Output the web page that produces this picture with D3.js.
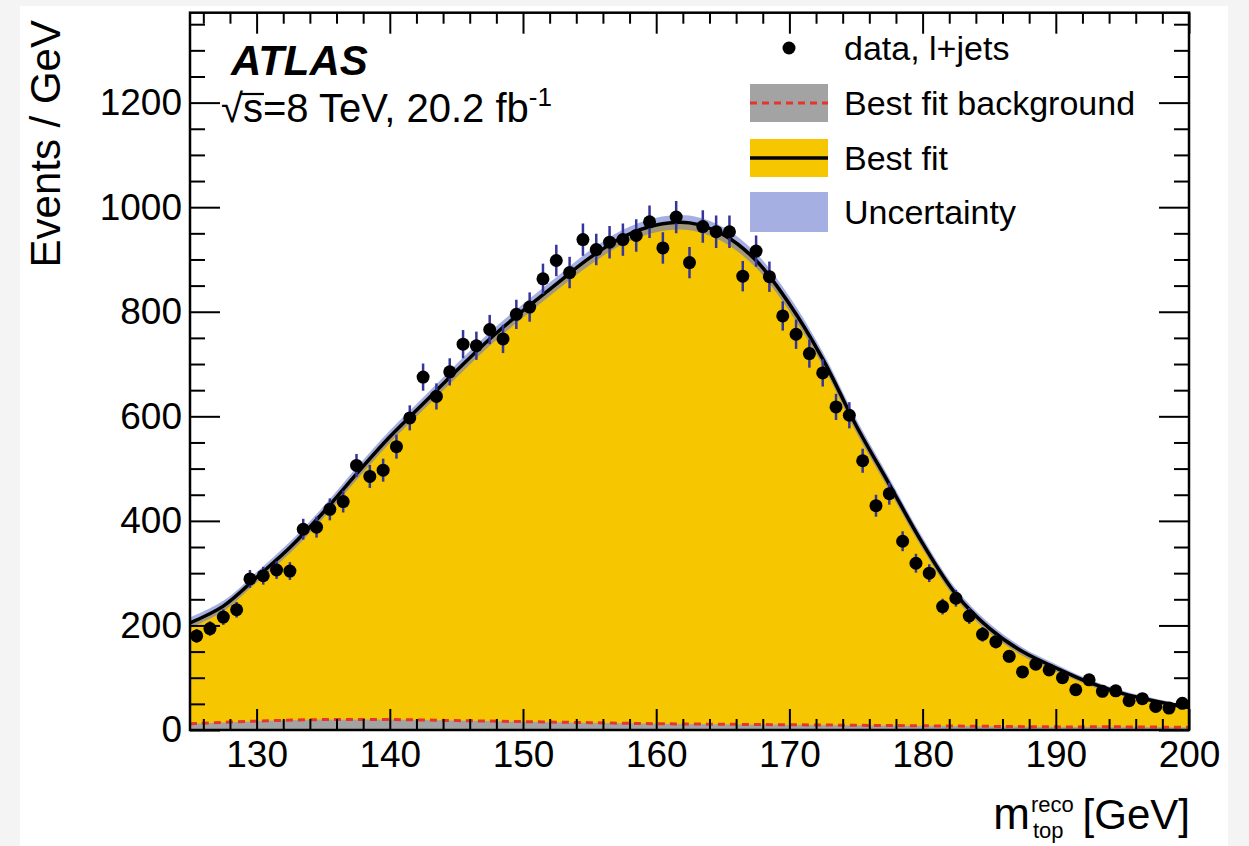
<!DOCTYPE html>
<html>
<head>
<meta charset="utf-8">
<script src="https://cdn.jsdelivr.net/npm/d3@7"></script>
<style>
  body { margin: 0; background: #f4f4f4; }
  svg { display: block; }
  text { font-family: "Liberation Sans", Arial, Helvetica, sans-serif; }
</style>
</head>
<body>
<svg id="chart" width="1249" height="846"></svg>
<script>
// bin centres of the data histogram (GeV)
const binCenters = [
  125.5,126.5,127.5,128.5,129.5,130.5,131.5,132.5,133.5,134.5,
  135.5,136.5,137.5,138.5,139.5,140.5,141.5,142.5,143.5,144.5,
  145.5,146.5,147.5,148.5,149.5,150.5,151.5,152.5,153.5,154.5,
  155.5,156.5,157.5,158.5,159.5,160.5,161.5,162.5,163.5,164.5,
  165.5,166.5,167.5,168.5,169.5,170.5,171.5,172.5,173.5,174.5,
  175.5,176.5,177.5,178.5,179.5,180.5,181.5,182.5,183.5,184.5,
  185.5,186.5,187.5,188.5,189.5,190.5,191.5,192.5,193.5,194.5,
  195.5,196.5,197.5,198.5,199.5
];
const dataCounts = [
  180,194,216,230,289,295,306,304,384,388,
  422,437,506,485,497,542,597,675,638,685,
  738,735,766,748,795,809,863,898,875,938,
  919,933,938,946,972,922,981,894,963,953,
  953,868,916,867,792,757,720,683,618,602,
  515,429,452,361,319,300,236,252,218,183,
  169,141,111,126,115,100,77,96,74,75,
  56,60,45,42,51
];
const dataErrors = [
  13,14,15,15,17,17,17,17,20,20,
  21,21,22,22,22,23,24,26,25,26,
  27,27,28,27,28,28,29,30,30,31,
  30,31,31,31,31,30,31,30,31,31,
  31,29,30,29,28,28,27,26,25,25,
  23,21,21,19,18,17,15,16,15,14,
  13,12,11,11,11,10,9,10,9,9,
  7,8,7,6,7
];

// best fit curve
const fitMass = [125,127.5,130,132.5,135,137.5,140,142.5,145,147.5,150,152.5,155,157.5,160,162.5,
                 165,167.5,170,172.5,175,177.5,180,182.5,185,187.5,190,192.5,195,197.5,200];
const fitValues = [205,237,292,349,416,490,561,624,687,748,802,853,903,943,966,970,
                   948,898,815,710,583,470,357,260,195,150,119,91,70,55,43];
const fitUncert = [10,10,10,11,11,12,12,12,13,13,13,13,14,14,14,14,
                   14,14,14,13,13,12,11,10,9,8,7,6,5,5,4];

// best fit background
const bkgMass = [125,130,135,140,145,150,155,160,165,170,175,180,185,190,195,200];
const bkgValues = [12,17,20,20,18,16,14,12,11,10,9,8,7,6,6,5];

const xMajor = [130,140,150,160,170,180,190,200];
const xMinor = [126,128,132,134,136,138,142,144,146,148,152,154,156,158,162,164,166,168,
                172,174,176,178,182,184,186,188,192,194,196,198];
const yMajor = [0,200,400,600,800,1000,1200];
const yMinor = [50,100,150,250,300,350,450,500,550,650,700,750,850,900,950,1050,1100,1150,1250,1300,1350];

const legendLabels = ['data, l+jets', 'Best fit background', 'Best fit', 'Uncertainty'];

const yellow = '#f6c600';
const lavender = 'rgba(105,122,205,0.6)';
const bkgGrey = '#a3a3a3';
const errColor = '#35359a';

const svg = d3.select('#chart');
const pLeft = 190, pRight = 1189, pTop = 12.7, pBottom = 730;

svg.append('rect').attr('x', 20).attr('y', 6).attr('width', 1208).attr('height', 840).attr('fill', '#fff');

const x = d3.scaleLinear([125, 200], [pLeft, pRight]);
const y = d3.scaleLinear([0, 1372], [pBottom, pTop]);

svg.append('clipPath').attr('id', 'plot')
  .append('rect').attr('x', pLeft).attr('y', pTop).attr('width', pRight - pLeft).attr('height', pBottom - pTop);

const plot = svg.append('g').attr('clip-path', 'url(#plot)');

const fitPts = fitMass.map((m, i) => ({m, v: fitValues[i], u: fitUncert[i]}));
const bkgPts = bkgMass.map((m, i) => ({m, v: bkgValues[i]}));

// yellow: best fit
plot.append('path')
  .datum(fitPts)
  .attr('fill', yellow)
  .attr('d', d3.area().x(d => x(d.m)).y0(y(0)).y1(d => y(d.v)).curve(d3.curveCatmullRom));

// grey: background
plot.append('path')
  .datum(bkgPts)
  .attr('fill', bkgGrey)
  .attr('d', d3.area().x(d => x(d.m)).y0(y(0)).y1(d => y(d.v)).curve(d3.curveCatmullRom));

// uncertainty band
plot.append('path')
  .datum(fitPts)
  .attr('fill', lavender)
  .attr('d', d3.area().x(d => x(d.m)).y0(d => y(d.v - d.u)).y1(d => y(d.v + d.u)).curve(d3.curveCatmullRom));

// background line
plot.append('path')
  .datum(bkgPts)
  .attr('fill', 'none')
  .attr('stroke', '#e8352c')
  .attr('stroke-width', 3)
  .attr('stroke-dasharray', '7,5')
  .attr('d', d3.line().x(d => x(d.m)).y(d => y(d.v)).curve(d3.curveCatmullRom));

// fit line
plot.append('path')
  .datum(fitPts)
  .attr('fill', 'none')
  .attr('stroke', '#000')
  .attr('stroke-width', 3.5)
  .attr('d', d3.line().x(d => x(d.m)).y(d => y(d.v)).curve(d3.curveCatmullRom));

// data
const pts = binCenters.map((m, i) => ({m, v: dataCounts[i], e: dataErrors[i]}));
plot.append('g').selectAll('line').data(pts).join('line')
  .attr('x1', d => x(d.m)).attr('x2', d => x(d.m))
  .attr('y1', d => y(d.v - d.e)).attr('y2', d => y(d.v + d.e))
  .attr('stroke', errColor).attr('stroke-width', 2.5);
plot.append('g').selectAll('circle').data(pts).join('circle')
  .attr('cx', d => x(d.m)).attr('cy', d => y(d.v)).attr('r', 6.5).attr('fill', '#000');

// axes (ticks inward, ROOT style)
function styleAxis(g, size) {
  g.select('.domain').remove();
  g.selectAll('.tick line').attr('stroke', '#000').attr('stroke-width', 2);
  g.selectAll('text').attr('font-size', size).attr('fill', '#000')
    .attr('font-family', '"Liberation Sans", Arial, Helvetica, sans-serif');
}
svg.append('g').attr('transform', `translate(0,${pBottom})`)
  .call(d3.axisBottom(x).tickValues(xMajor).tickSize(-21).tickPadding(11).tickFormat(d3.format('d')))
  .call(g => styleAxis(g, 37));
svg.append('g').attr('transform', `translate(0,${pBottom})`)
  .call(d3.axisBottom(x).tickValues(xMinor).tickSize(-11).tickFormat(''))
  .call(g => styleAxis(g, 37));
svg.append('g').attr('transform', `translate(0,${pTop})`)
  .call(d3.axisTop(x).tickValues(xMajor).tickSize(-21).tickFormat(''))
  .call(g => styleAxis(g, 37));
svg.append('g').attr('transform', `translate(0,${pTop})`)
  .call(d3.axisTop(x).tickValues(xMinor).tickSize(-11).tickFormat(''))
  .call(g => styleAxis(g, 37));
svg.append('g').attr('transform', `translate(${pLeft},0)`)
  .call(d3.axisLeft(y).tickValues(yMajor).tickSize(-30).tickPadding(8).tickFormat(d3.format('d')))
  .call(g => styleAxis(g, 37));
svg.append('g').attr('transform', `translate(${pLeft},0)`)
  .call(d3.axisLeft(y).tickValues(yMinor).tickSize(-15).tickFormat(''))
  .call(g => styleAxis(g, 37));
svg.append('g').attr('transform', `translate(${pRight},0)`)
  .call(d3.axisRight(y).tickValues(yMajor).tickSize(-30).tickFormat(''))
  .call(g => styleAxis(g, 37));
svg.append('g').attr('transform', `translate(${pRight},0)`)
  .call(d3.axisRight(y).tickValues(yMinor).tickSize(-15).tickFormat(''))
  .call(g => styleAxis(g, 37));

svg.append('rect')
  .attr('x', pLeft).attr('y', pTop).attr('width', pRight - pLeft).attr('height', pBottom - pTop)
  .attr('fill', 'none').attr('stroke', '#000').attr('stroke-width', 2.5);

// axis titles
svg.append('text')
  .attr('transform', 'translate(60,20) rotate(-90)')
  .attr('text-anchor', 'end')
  .attr('font-size', 42)
  .text('Events / GeV');

const xt = svg.append('g');
xt.append('text').attr('x', 1190).attr('y', 829).attr('text-anchor', 'end')
  .attr('font-size', 42).text('[GeV]');
xt.append('text').attr('x', 1031).attr('y', 812)
  .attr('font-size', 22).text('reco');
xt.append('text').attr('x', 1033).attr('y', 838)
  .attr('font-size', 22).text('top');
xt.append('text').attr('x', 1030).attr('y', 829).attr('text-anchor', 'end')
  .attr('font-size', 44).text('m');

// ATLAS label
svg.append('text').attr('x', 231).attr('y', 75)
  .attr('font-size', 42).attr('font-weight', 'bold').attr('font-style', 'italic')
  .text('ATLAS');
const lumi = svg.append('text').attr('x', 221).attr('y', 122).attr('font-size', 40);
lumi.append('tspan').text('\u221As=8 TeV, 20.2 fb');
lumi.append('tspan').attr('dy', -16).attr('font-size', 26).text('-1');
{
  const n = lumi.node();
  const sx = n.getStartPositionOfChar(1).x;
  const ex = n.getEndPositionOfChar(1).x;
  svg.append('line').attr('x1', sx - 2).attr('x2', ex + 1).attr('y1', 94).attr('y2', 94)
    .attr('stroke', '#000').attr('stroke-width', 2.2);
}

// legend
const legY = [48, 103, 158, 212];
const lg = svg.append('g');
lg.selectAll('text').data(legendLabels).join('text')
  .attr('x', 844).attr('y', (d, i) => legY[i]).attr('dy', '0.36em')
  .attr('font-size', 34).text(d => d);
lg.append('circle').attr('cx', 789).attr('cy', legY[0]).attr('r', 6.5).attr('fill', '#000');
lg.append('rect').attr('x', 750).attr('y', legY[1] - 19).attr('width', 78).attr('height', 38).attr('fill', bkgGrey);
lg.append('line').attr('x1', 750).attr('x2', 828).attr('y1', legY[1]).attr('y2', legY[1])
  .attr('stroke', '#e8352c').attr('stroke-width', 3).attr('stroke-dasharray', '7,5');
lg.append('rect').attr('x', 750).attr('y', legY[2] - 19).attr('width', 78).attr('height', 38).attr('fill', yellow);
lg.append('line').attr('x1', 750).attr('x2', 828).attr('y1', legY[2]).attr('y2', legY[2])
  .attr('stroke', '#000').attr('stroke-width', 3.5);
lg.append('rect').attr('x', 750).attr('y', legY[3] - 20).attr('width', 78).attr('height', 40).attr('fill', lavender);
</script>
</body>
</html>
